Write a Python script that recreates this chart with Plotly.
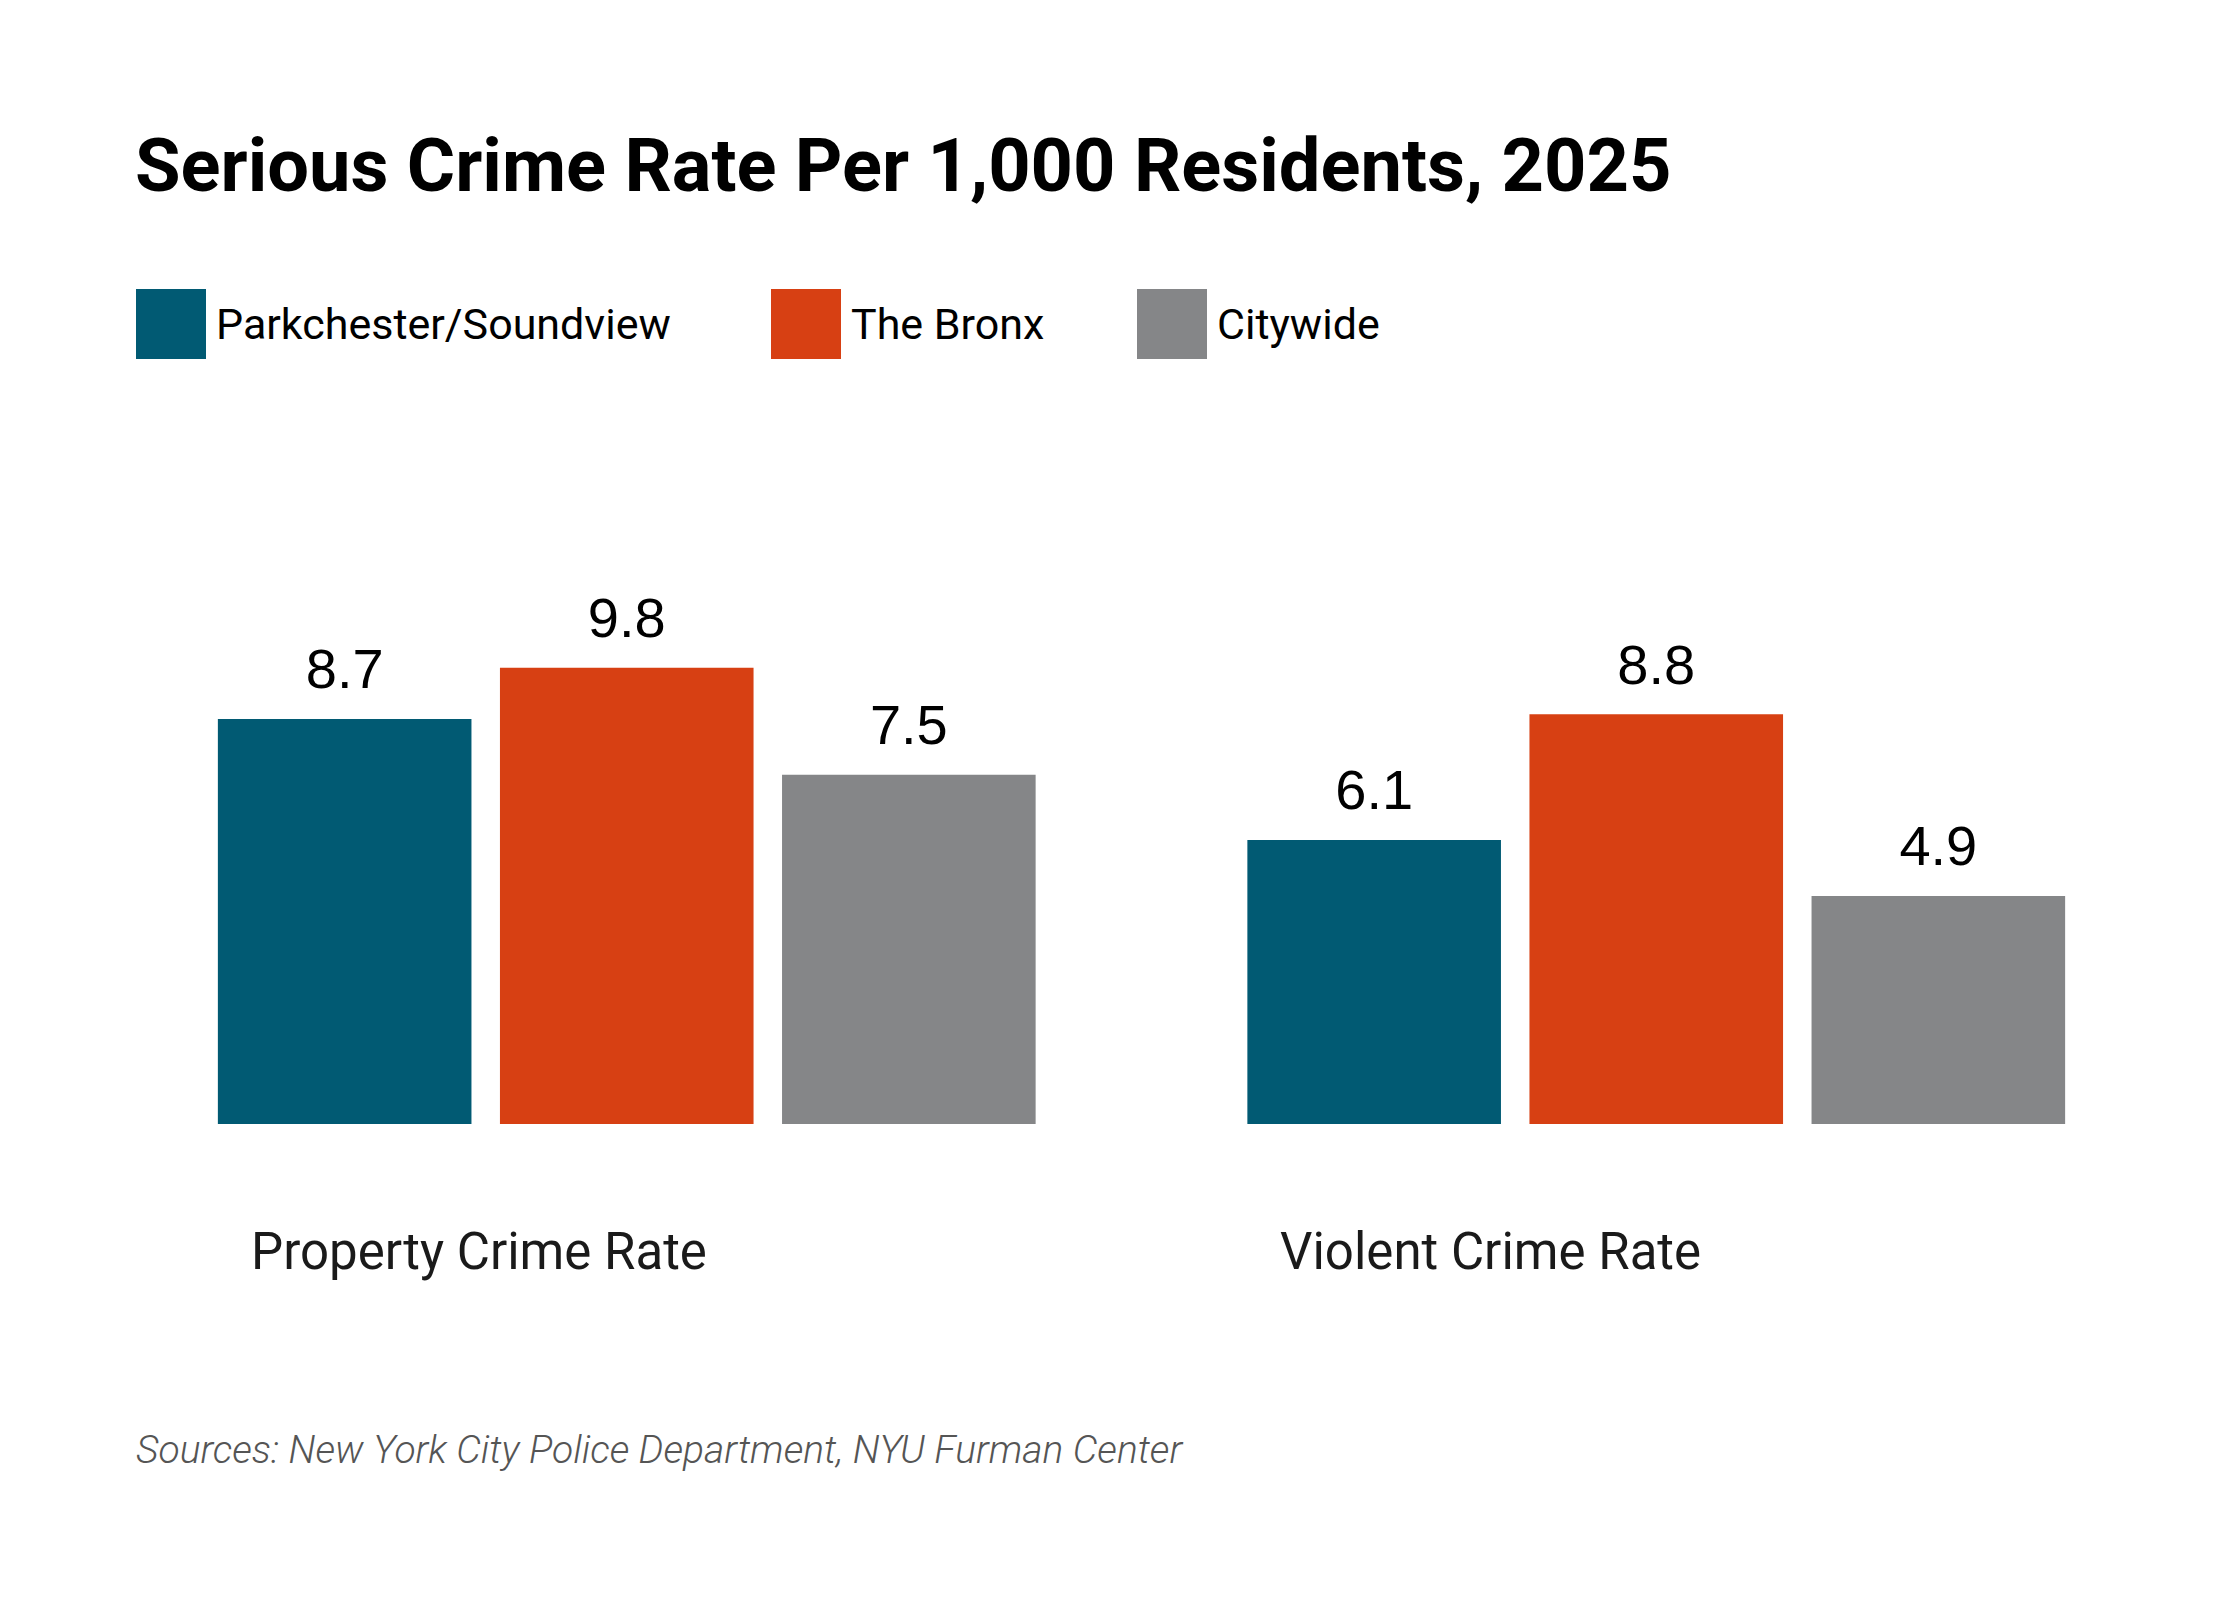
import plotly.graph_objects as go

# chart data
categories = ["Property Crime Rate", "Violent Crime Rate"]
series_names = ["Parkchester/Soundview", "The Bronx", "Citywide"]
parkchester = [8.7, 6.1]
bronx = [9.8, 8.8]
citywide = [7.5, 4.9]
colors = ["#015a73", "#d74013", "#858688"]

title_text = "Serious Crime Rate Per 1,000 Residents, 2025"
source_text = "Sources: New York City Police Department, NYU Furman Center"

W, H = 2240, 1600
OFF = 8  # page body margin pushes the figure down/right a little
L, R, T, B = 112 - OFF, 69 + OFF, 300 - OFF, 476 + OFF


def fx(px):
    # page pixel x -> paper x
    return (px - OFF - L) / (W - L - R)


def fy(py):
    # page pixel y -> paper y
    return (H - B - (py - OFF)) / (H - T - B)


fig = go.Figure()

values = [parkchester, bronx, citywide]
for name, vals, col in zip(series_names, values, colors):
    fig.add_trace(go.Bar(
        x=categories, y=vals, name=name,
        marker=dict(color=col, line=dict(width=0)),
        showlegend=False, hoverinfo="skip",
    ))

# value labels, grouped like the bars
for name, vals in zip(series_names, values):
    fig.add_trace(go.Scatter(
        x=categories, y=vals, name=name + " label",
        mode="markers+text",
        text=[f"{v:.1f}" for v in vals],
        textposition="top center",
        textfont=dict(family="Liberation Sans, Arial", size=56, color="#000000"),
        marker=dict(size=25, color="rgba(0,0,0,0)"),
        cliponaxis=False, showlegend=False, hoverinfo="skip",
    ))

annotations = [
    dict(text="<b>" + title_text + "</b>", xref="paper", yref="paper",
         x=fx(133), y=fy(165), xanchor="left", yanchor="middle", showarrow=False,
         font=dict(family="Roboto", size=74, color="#000000")),
    dict(text=source_text, xref="paper", yref="paper",
         x=fx(134), y=fy(1450), xanchor="left", yanchor="middle", showarrow=False,
         font=dict(family="Roboto", size=39, color="#555555", style="italic", weight=300)),
]

for cat in categories:
    annotations.append(dict(
        text=cat, xref="x", yref="paper", x=cat, xshift=-378,
        y=fy(1251), xanchor="left", yanchor="middle", showarrow=False,
        font=dict(family="Roboto", size=51, color="#1a1a1a"),
    ))

# hand-drawn legend with large swatches
legend_left = [136, 771, 1137]
shapes = []
for name, col, lx in zip(series_names, colors, legend_left):
    shapes.append(dict(
        type="rect", xref="paper", yref="paper",
        x0=fx(lx), x1=fx(lx + 70), y0=fy(359), y1=fy(289),
        fillcolor=col, line=dict(width=0),
    ))
    annotations.append(dict(
        text=name, xref="paper", yref="paper",
        x=fx(lx + 78), y=fy(324), xanchor="left", yanchor="middle", showarrow=False,
        font=dict(family="Roboto", size=43, color="#000000"),
    ))

fig.update_layout(
    width=W, height=H,
    margin=dict(l=L, r=R, t=T, b=B),
    paper_bgcolor="#ffffff", plot_bgcolor="#ffffff",
    barmode="group", bargap=0.178, bargroupgap=0.101,
    scattermode="group", scattergap=0.178,
    xaxis=dict(type="category", range=[-0.5, 1.5], showticklabels=False,
               showgrid=False, zeroline=False, showline=False, ticks=""),
    yaxis=dict(range=[0, 17.7], showticklabels=False, showgrid=False,
               zeroline=False, showline=False, ticks=""),
    annotations=annotations, shapes=shapes,
    showlegend=False,
)

fig.write_html("out.html")
